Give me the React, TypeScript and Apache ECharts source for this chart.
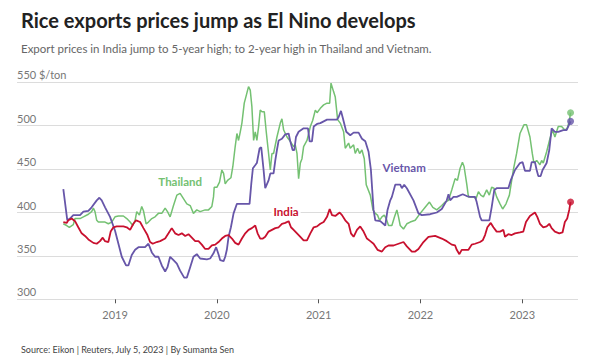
import React, { useEffect, useRef } from "react";
import * as echarts from "echarts";

// [decimal year, US$/ton]
const thailand: [number, number][] = [
  [2018.492, 387], [2018.525, 385], [2018.551, 383], [2018.59, 386], [2018.607, 393], [2018.656, 393],
  [2018.689, 395], [2018.738, 398], [2018.77, 401], [2018.787, 405], [2018.803, 401], [2018.82, 391],
  [2018.836, 389], [2018.902, 389], [2018.934, 387], [2018.967, 389], [2019.0, 395], [2019.033, 396],
  [2019.082, 396], [2019.115, 393], [2019.148, 389], [2019.174, 385], [2019.197, 391], [2019.213, 401],
  [2019.239, 397], [2019.262, 407], [2019.279, 402], [2019.305, 387], [2019.328, 389], [2019.361, 393],
  [2019.393, 395], [2019.426, 399], [2019.459, 399], [2019.492, 405], [2019.515, 401], [2019.541, 395],
  [2019.574, 408], [2019.607, 420], [2019.639, 422], [2019.672, 416], [2019.705, 410], [2019.738, 408],
  [2019.77, 399], [2019.803, 403], [2019.836, 401], [2019.885, 403], [2019.918, 403], [2019.951, 407],
  [2019.967, 418], [2019.974, 429], [2020.0, 429], [2020.026, 435], [2020.049, 449], [2020.066, 445],
  [2020.082, 433], [2020.105, 437], [2020.138, 440], [2020.157, 453], [2020.18, 476], [2020.197, 491],
  [2020.213, 483], [2020.23, 493], [2020.246, 503], [2020.269, 526], [2020.289, 535], [2020.311, 545],
  [2020.328, 541], [2020.344, 522], [2020.361, 483], [2020.377, 493], [2020.393, 483], [2020.41, 499],
  [2020.426, 518], [2020.443, 516], [2020.466, 516], [2020.485, 493], [2020.508, 468], [2020.525, 449],
  [2020.541, 468], [2020.557, 468], [2020.59, 487], [2020.623, 503], [2020.639, 508], [2020.656, 495],
  [2020.689, 487], [2020.721, 482], [2020.754, 476], [2020.77, 478], [2020.787, 468], [2020.803, 439],
  [2020.82, 457], [2020.836, 462], [2020.852, 476], [2020.885, 483], [2020.918, 499], [2020.941, 506],
  [2020.967, 518], [2020.984, 515], [2021.016, 520], [2021.049, 524], [2021.082, 526], [2021.108, 526],
  [2021.121, 549], [2021.147, 539], [2021.163, 533], [2021.186, 507], [2021.212, 503], [2021.245, 493],
  [2021.261, 474], [2021.294, 480], [2021.31, 474], [2021.343, 478], [2021.359, 468], [2021.382, 474],
  [2021.402, 468], [2021.425, 472], [2021.448, 462], [2021.467, 432], [2021.507, 420], [2021.533, 403],
  [2021.556, 399], [2021.578, 397], [2021.598, 391], [2021.621, 395], [2021.644, 397], [2021.663, 393],
  [2021.686, 385], [2021.719, 385], [2021.745, 395], [2021.768, 403], [2021.784, 395], [2021.801, 385],
  [2021.833, 381], [2021.866, 387], [2021.899, 389], [2021.948, 391], [2021.997, 399], [2022.046, 406],
  [2022.088, 412], [2022.121, 406], [2022.16, 403], [2022.209, 408], [2022.242, 412], [2022.275, 414],
  [2022.307, 426], [2022.34, 439], [2022.363, 437], [2022.389, 451], [2022.412, 458], [2022.428, 453],
  [2022.454, 433], [2022.471, 418], [2022.493, 418], [2022.52, 418], [2022.546, 416], [2022.569, 424],
  [2022.592, 420], [2022.618, 418], [2022.65, 426], [2022.676, 420], [2022.699, 429], [2022.722, 428],
  [2022.748, 418], [2022.781, 410], [2022.807, 404], [2022.84, 410], [2022.873, 420], [2022.912, 449],
  [2022.944, 468], [2022.977, 491], [2023.016, 501], [2023.042, 501], [2023.075, 487], [2023.098, 468],
  [2023.114, 457], [2023.141, 460], [2023.173, 455], [2023.19, 460], [2023.206, 457], [2023.239, 470],
  [2023.271, 485], [2023.297, 495], [2023.32, 487], [2023.353, 499], [2023.386, 499], [2023.418, 495],
  [2023.441, 497], [2023.461, 505], [2023.474, 515],
];

const vietnam: [number, number][] = [
  [2018.492, 427], [2018.531, 391], [2018.557, 393], [2018.59, 397], [2018.656, 397], [2018.689, 401],
  [2018.738, 402], [2018.77, 406], [2018.82, 414], [2018.846, 417], [2018.869, 414], [2018.902, 406],
  [2018.951, 395], [2019.0, 379], [2019.033, 364], [2019.066, 349], [2019.108, 339], [2019.131, 339],
  [2019.164, 351], [2019.197, 357], [2019.23, 360], [2019.295, 360], [2019.328, 364], [2019.361, 354],
  [2019.393, 349], [2019.426, 349], [2019.459, 339], [2019.492, 332], [2019.515, 337], [2019.541, 349],
  [2019.574, 345], [2019.607, 341], [2019.639, 333], [2019.679, 325], [2019.705, 325], [2019.738, 337],
  [2019.77, 349], [2019.803, 352], [2019.836, 347], [2019.902, 346], [2019.934, 347], [2019.967, 353],
  [2019.993, 360], [2020.016, 352], [2020.033, 345], [2020.066, 344], [2020.082, 349], [2020.098, 357],
  [2020.115, 372], [2020.138, 383], [2020.164, 399], [2020.197, 410], [2020.321, 410], [2020.338, 433],
  [2020.354, 451], [2020.393, 457], [2020.42, 474], [2020.436, 475], [2020.459, 449], [2020.475, 428],
  [2020.508, 437], [2020.525, 445], [2020.557, 445], [2020.574, 460], [2020.59, 472], [2020.607, 483],
  [2020.639, 485], [2020.672, 490], [2020.705, 491], [2020.721, 482], [2020.744, 472], [2020.761, 472],
  [2020.777, 487], [2020.803, 493], [2020.852, 497], [2020.895, 497], [2020.911, 482], [2020.934, 482],
  [2020.951, 499], [2020.984, 502], [2021.016, 503], [2021.082, 507], [2021.18, 507], [2021.196, 510],
  [2021.219, 517], [2021.239, 508], [2021.271, 493], [2021.31, 489], [2021.343, 492], [2021.392, 492],
  [2021.425, 485], [2021.458, 482], [2021.49, 470], [2021.513, 449], [2021.539, 403], [2021.556, 391],
  [2021.605, 390], [2021.654, 385], [2021.676, 403], [2021.703, 414], [2021.719, 418], [2021.752, 432],
  [2021.801, 432], [2021.817, 428], [2021.84, 432], [2021.866, 428], [2021.931, 414], [2021.98, 399],
  [2022.013, 397], [2022.095, 398], [2022.16, 400], [2022.209, 404], [2022.258, 414], [2022.275, 421],
  [2022.291, 414], [2022.324, 418], [2022.356, 418], [2022.415, 421], [2022.454, 419], [2022.487, 418],
  [2022.536, 418], [2022.552, 412], [2022.585, 395], [2022.601, 391], [2022.676, 391], [2022.699, 406],
  [2022.725, 426], [2022.748, 428], [2022.863, 428], [2022.886, 437], [2022.928, 449], [2022.977, 457],
  [2023.003, 458], [2023.026, 448], [2023.075, 448], [2023.092, 458], [2023.124, 458], [2023.141, 449],
  [2023.157, 442], [2023.18, 442], [2023.199, 449], [2023.239, 457], [2023.265, 472], [2023.288, 497],
  [2023.32, 493], [2023.353, 493], [2023.402, 495], [2023.435, 495], [2023.474, 505],
];

const india: [number, number][] = [
  [2018.492, 389], [2018.525, 388], [2018.541, 391], [2018.574, 393], [2018.607, 390], [2018.639, 383],
  [2018.672, 376], [2018.705, 373], [2018.738, 369], [2018.787, 365], [2018.82, 364], [2018.852, 367],
  [2018.879, 371], [2018.902, 367], [2018.934, 366], [2018.957, 378], [2018.984, 383], [2019.016, 384],
  [2019.082, 384], [2019.115, 383], [2019.148, 380], [2019.18, 387], [2019.207, 391], [2019.246, 389],
  [2019.279, 382], [2019.318, 374], [2019.344, 366], [2019.37, 364], [2019.41, 366], [2019.443, 367],
  [2019.492, 370], [2019.525, 376], [2019.557, 382], [2019.59, 376], [2019.623, 374], [2019.656, 376],
  [2019.689, 373], [2019.721, 375], [2019.754, 371], [2019.787, 367], [2019.82, 367], [2019.852, 363],
  [2019.885, 358], [2019.918, 358], [2019.951, 362], [2019.984, 363], [2020.016, 366], [2020.049, 370],
  [2020.082, 373], [2020.115, 374], [2020.148, 370], [2020.18, 365], [2020.213, 363], [2020.246, 370],
  [2020.279, 376], [2020.311, 380], [2020.344, 382], [2020.377, 385], [2020.4, 376], [2020.426, 370],
  [2020.452, 370], [2020.475, 372], [2020.508, 378], [2020.541, 380], [2020.574, 382], [2020.607, 383],
  [2020.639, 387], [2020.672, 388], [2020.705, 390], [2020.728, 383], [2020.754, 380], [2020.787, 376],
  [2020.82, 372], [2020.852, 368], [2020.885, 368], [2020.918, 376], [2020.951, 383], [2020.984, 384],
  [2021.016, 387], [2021.049, 389], [2021.082, 395], [2021.108, 404], [2021.131, 397], [2021.163, 396],
  [2021.206, 400], [2021.229, 397], [2021.261, 391], [2021.294, 387], [2021.317, 376], [2021.343, 372],
  [2021.376, 380], [2021.408, 384], [2021.441, 378], [2021.474, 370], [2021.507, 367], [2021.539, 364],
  [2021.578, 357], [2021.621, 355], [2021.654, 360], [2021.686, 362], [2021.735, 362], [2021.784, 364],
  [2021.833, 366], [2021.866, 361], [2021.915, 355], [2021.948, 355], [2021.98, 358], [2022.029, 366],
  [2022.078, 372], [2022.144, 373], [2022.209, 370], [2022.258, 367], [2022.307, 363], [2022.34, 362],
  [2022.356, 357], [2022.382, 352], [2022.405, 357], [2022.438, 357], [2022.471, 357], [2022.503, 363],
  [2022.536, 364], [2022.585, 366], [2022.611, 368], [2022.634, 374], [2022.657, 383], [2022.69, 388],
  [2022.716, 383], [2022.748, 378], [2022.781, 378], [2022.814, 380], [2022.83, 372], [2022.863, 375],
  [2022.895, 374], [2022.928, 376], [2022.977, 377], [2023.01, 378], [2023.036, 389], [2023.075, 396],
  [2023.124, 400], [2023.147, 395], [2023.173, 387], [2023.206, 383], [2023.239, 384], [2023.265, 387],
  [2023.288, 382], [2023.32, 378], [2023.363, 376], [2023.395, 377], [2023.418, 389], [2023.441, 393],
  [2023.461, 403], [2023.474, 412],
];

const yTicks = [300, 350, 400, 450, 500, 550];
const xTickYears = [2019, 2020, 2021, 2022, 2023];

const COLORS = { thailand: "#74c172", vietnam: "#6756a9", india: "#c8102e" };
const FONT = "Lato, 'Open Sans', sans-serif";

export default function App() {
  const ref = useRef<HTMLDivElement>(null);
  useEffect(() => {
    if (!ref.current) return;
    const chart = echarts.init(ref.current, undefined, { renderer: "svg" });
    const lineSeries = (name: string, data: [number, number][], color: string, width: number, label: { coord: [number, number] }) => ({
      name,
      type: "line",
      data,
      symbol: "none",
      lineStyle: { color, width },
      z: name === "India" ? 4 : name === "Vietnam" ? 3 : 2,
      markPoint: {
        symbol: "circle",
        symbolSize: 1,
        itemStyle: { color: "rgba(0,0,0,0)" },
        label: {
          show: true,
          position: "inside",
          formatter: name,
          color,
          fontFamily: FONT,
          fontWeight: "bold",
          fontSize: 11.5,
          backgroundColor: "#fff",
          padding: [1, 2],
        },
        data: [{ coord: label.coord, name }],
      },
    });
    const endDot = (data: [number, number][], color: string) => ({
      type: "scatter",
      data: [data[data.length - 1]],
      symbol: "circle",
      symbolSize: 7,
      itemStyle: { color },
      z: 5,
    });
    chart.setOption({
      animation: false,
      backgroundColor: "#fff",
      title: [
        {
          text: "Rice exports prices jump as El Nino develops",
          left: 16,
          top: 5,
          textStyle: { fontFamily: FONT, fontWeight: "bold", fontSize: 20, color: "#222" },
        },
        {
          text: "Export prices in India jump to 5-year high; to 2-year high in Thailand and Vietnam.",
          left: 16,
          top: 37,
          textStyle: { fontFamily: FONT, fontWeight: "normal", fontSize: 11.5, color: "#666" },
        },
        {
          text: "Source: Eikon | Reuters, July 5, 2023 | By Sumanta Sen",
          left: 16,
          top: 340,
          textStyle: { fontFamily: FONT, fontWeight: "normal", fontSize: 9, color: "#444" },
        },
      ],
      grid: { left: 17, right: 12, top: 82.3, bottom: 58.7, containLabel: false },
      xAxis: {
        type: "value",
        min: 2018.037,
        max: 2023.547,
        splitLine: { show: false },
        axisLine: { show: false },
        axisTick: {
          show: true,
          customValues: xTickYears,
          length: 4,
          lineStyle: { color: "#555", width: 1 },
        },
        axisLabel: {
          customValues: xTickYears,
          formatter: (v: number) => String(Math.round(v)),
          color: "#777",
          fontFamily: FONT,
          fontSize: 11,
          margin: 10,
        },
      },
      yAxis: {
        type: "value",
        min: yTicks[0],
        max: yTicks[yTicks.length - 1],
        interval: 50,
        axisLine: { show: false },
        axisTick: { show: false },
        splitLine: { lineStyle: { color: "#dcdcdc", width: 1 } },
        axisLabel: {
          inside: true,
          margin: 0,
          align: "left",
          verticalAlign: "bottom",
          padding: [0, 0, 2, 0],
          color: "#777",
          fontFamily: FONT,
          fontSize: 11,
          formatter: (v: number) => (v === yTicks[yTicks.length - 1] ? `${v} $/ton` : String(v)),
        },
      },
      series: [
        lineSeries("Thailand", thailand, COLORS.thailand, 1.5, { coord: [2019.64, 435.5] }),
        lineSeries("Vietnam", vietnam, COLORS.vietnam, 1.8, { coord: [2021.84, 451.6] }),
        lineSeries("India", india, COLORS.india, 1.8, { coord: [2020.68, 401] }),
        endDot(thailand, COLORS.thailand),
        endDot(vietnam, COLORS.vietnam),
        endDot(india, COLORS.india),
      ],
    });
    return () => chart.dispose();
  }, []);
  return <div ref={ref} style={{ position: "fixed", left: 0, top: 0, width: 590, height: 358 }} />;
}
